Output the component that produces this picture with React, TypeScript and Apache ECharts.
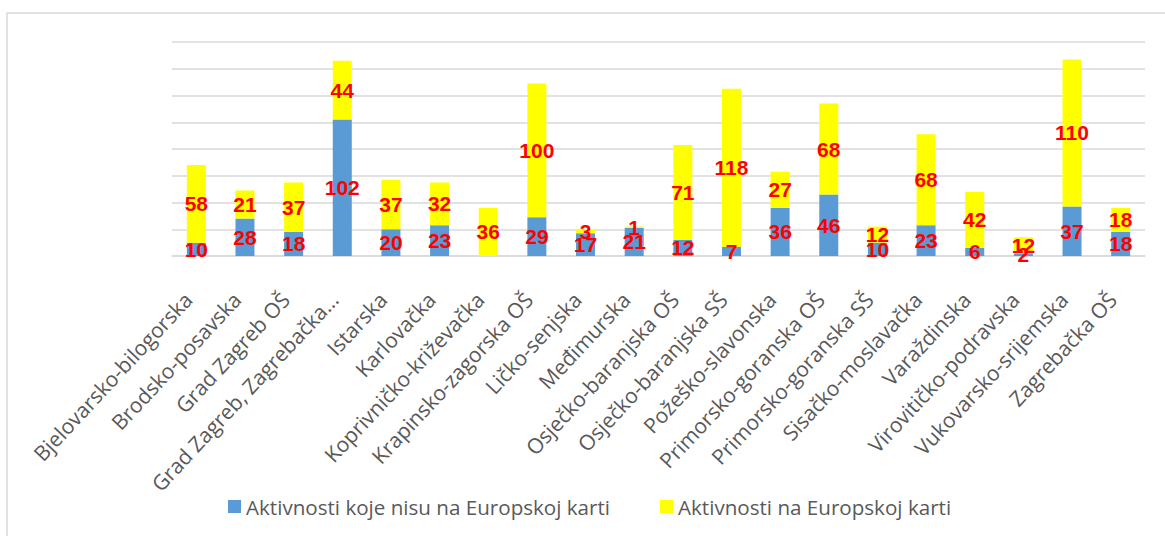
import React, { useEffect, useRef } from "react";
import * as echarts from "echarts";

const categories = [
  "Bjelovarsko-bilogorska",
  "Brodsko-posavska",
  "Grad Zagreb OŠ",
  "Grad Zagreb, Zagrebačka...",
  "Istarska",
  "Karlovačka",
  "Koprivničko-križevačka",
  "Krapinsko-zagorska OŠ",
  "Ličko-senjska",
  "Međimurska",
  "Osječko-baranjska OŠ",
  "Osječko-baranjska SŠ",
  "Požeško-slavonska",
  "Primorsko-goranska OŠ",
  "Primorsko-goranska SŠ",
  "Sisačko-moslavačka",
  "Varaždinska",
  "Virovitičko-podravska",
  "Vukovarsko-srijemska",
  "Zagrebačka OŠ",
];

const notOnMap = [10, 28, 18, 102, 20, 23, 0, 29, 17, 21, 12, 7, 36, 46, 10, 23, 6, 2, 37, 18];
const onMap = [58, 21, 37, 44, 37, 32, 36, 100, 3, 1, 71, 118, 27, 68, 12, 68, 42, 12, 110, 18];

const seriesNames = ["Aktivnosti koje nisu na Europskoj karti", "Aktivnosti na Europskoj karti"];

export default function App() {
  const ref = useRef<HTMLDivElement>(null);
  useEffect(() => {
    if (!ref.current) return;
    const chart = echarts.init(ref.current, undefined, { renderer: "svg" });
    const labelStyle = {
      show: true,
      position: "inside" as const,
      color: "#FF0000",
      fontWeight: "bold" as const,
      fontSize: 21,
      fontFamily: "Liberation Sans",
      formatter: (p: any) => (p.value ? String(p.value) : ""),
    };
    chart.setOption({
      animation: false,
      backgroundColor: "#ffffff",
      graphic: [
        {
          type: "rect",
          shape: { x: 7, y: 13, width: 1300, height: 700 },
          style: { fill: "none", stroke: "#D9D9D9", lineWidth: 1.5 },
          silent: true,
        },
      ],
      grid: { left: 172, right: 20, top: 42, bottom: 280 },
      legend: {
        left: 223,
        top: 491,
        icon: "rect",
        itemWidth: 13,
        itemHeight: 13,
        itemGap: 50,
        textStyle: { color: "#595959", fontSize: 20.6, fontFamily: "Open Sans" },
        data: seriesNames,
      },
      xAxis: {
        type: "category",
        data: categories,
        axisLine: { lineStyle: { color: "#D9D9D9", width: 1.5 } },
        axisTick: { show: false },
        axisLabel: {
          interval: 0,
          rotate: 47,
          margin: 31,
          padding: [0, 12, 0, 0],
          color: "#595959",
          fontSize: 21,
          fontFamily: "Open Sans",
        },
      },
      yAxis: {
        type: "value",
        min: 0,
        max: 160,
        interval: 20,
        axisLabel: { show: false },
        axisLine: { show: false },
        axisTick: { show: false },
        splitLine: { lineStyle: { color: "#D9D9D9", width: 1.5 } },
      },
      series: [
        {
          name: seriesNames[0],
          type: "bar",
          stack: "total",
          barWidth: 19,
          data: notOnMap,
          itemStyle: { color: "#5B9BD5" },
          label: labelStyle,
        },
        {
          name: seriesNames[1],
          type: "bar",
          stack: "total",
          barWidth: 19,
          data: onMap,
          itemStyle: { color: "#FFFF00" },
          label: labelStyle,
        },
      ],
    });
    return () => chart.dispose();
  }, []);
  return (
    <div
      ref={ref}
      style={{ position: "absolute", left: 0, top: 0, width: 1165, height: 536 }}
    />
  );
}
